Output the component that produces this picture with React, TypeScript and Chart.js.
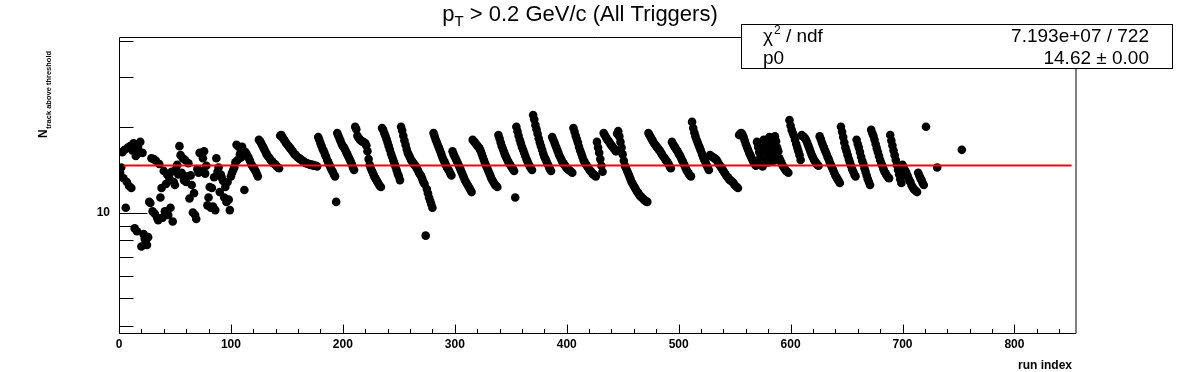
import React, { useEffect, useRef } from "react";
import { Chart, registerables } from "chart.js";

Chart.register(...registerables);

// N_track above threshold per run index (runs 0..719, consecutive)
const nTrack: number[] = [
  14.1, 13.8, 14.4, 16.3, 13.2, 16.6, 10.4, 12.8, 16.9, 12.4,
  17.1, 12.2, 16.5, 17.5, 8.8, 15.8, 8.6, 17.0, 16.2, 17.7,
  7.6, 16.2, 8.4, 8.1, 7.9, 7.7, 8.2, 10.9, 10.8, 15.5,
  10.1, 15.4, 9.9, 15.2, 9.6, 9.4, 14.8, 11.3, 12.2, 9.6,
  14.0, 10.1, 12.6, 13.6, 9.8, 13.2, 10.4, 13.9, 9.3, 12.8,
  12.5, 14.2, 14.7, 13.6, 17.1, 15.9, 13.8, 15.5, 13.0, 15.3,
  12.8, 13.4, 14.9, 11.2, 13.5, 12.5, 10.0, 11.7, 9.8, 9.5,
  14.2, 13.8, 16.2, 14.0, 13.9, 15.5, 16.4, 13.7, 14.6, 10.6,
  11.3, 12.3, 10.4, 12.2, 10.5, 13.3, 10.2, 15.5, 13.9, 14.4,
  11.8, 13.6, 13.2, 12.9, 11.3, 12.3, 10.9, 12.8, 11.1, 10.2,
  13.4, 13.8, 14.1, 14.4, 15.0, 17.3, 15.3, 17.0, 16.0, 15.6, 17.0, 15.9, 12.0,
  16.3, 16.0, 15.8, 15.5, 15.2, 14.8, 14.6, 14.4, 14.2, 14.0, 13.7, 13.4,
  18.0, 17.8, 17.5, 17.2, 16.9, 16.6, 16.3, 16.0, 15.8, 15.6, 15.4, 15.2, 15.1, 14.9, 14.8, 14.7, 14.5, 14.4, 14.3,
  18.6, 18.7, 18.4, 18.1, 17.9, 17.6, 17.4, 17.2, 17.0, 16.8, 16.6, 16.4, 16.2, 16.0, 15.9, 15.7, 15.6, 15.5, 15.4, 15.3,
  15.2, 15.1, 15.0, 14.9, 14.9, 14.8, 14.8, 14.7, 14.7, 14.7, 14.6, 14.6, 14.6, 14.5,
  18.4, 18.0, 17.5, 17.1, 16.7, 16.4, 16.0, 15.7, 15.3, 15.0, 14.7, 14.4, 14.1, 13.9, 13.6, 13.4,
  10.9,
  19.0, 18.6, 18.2, 17.8, 17.4, 17.1, 16.9, 16.6, 16.3, 16.0, 15.7, 15.4, 15.1, 14.8, 14.4, 14.1,
  20.0, 19.6, 18.6, 18.3, 18.1, 17.9, 17.8, 17.7, 17.6, 17.5, 17.2, 16.4, 15.4, 14.7, 14.3, 14.0, 13.7, 13.4, 13.2, 13.0, 12.8, 12.6, 12.4, 12.3,
  19.8, 19.5, 19.0, 18.6, 18.1, 17.6, 17.1, 16.6, 16.1, 15.7, 15.3, 14.9, 14.5, 14.1, 13.7, 13.4, 13.0,
  20.0, 19.4, 18.6, 17.9, 17.3, 16.7, 16.2, 15.9, 15.6, 15.3, 15.1, 14.9, 14.7, 14.6, 14.3, 14.1, 13.8, 13.6, 13.4, 13.1, 12.8, 12.6, 8.3, 12.1, 11.7, 11.3, 11.0, 10.7, 10.4,
  19.0, 18.5, 18.0, 17.6, 17.2, 16.8, 16.4, 16.0, 15.6, 15.3, 15.0, 14.7, 14.4, 14.2, 14.0, 13.7, 13.5,
  16.4, 16.0, 15.7, 15.4, 15.1, 14.8, 14.5, 14.2, 13.9, 13.6, 13.3, 13.0, 12.8, 12.6, 12.4, 12.2, 12.0, 11.8,
  18.0, 17.8, 17.6, 17.4, 17.2, 17.0, 16.8, 16.5, 16.1, 15.7, 15.3, 14.9, 14.6, 14.3, 14.0, 13.7, 13.4, 13.1, 12.9, 12.7, 12.5, 12.4, 12.3,
  18.7, 18.2, 17.6, 17.1, 16.7, 16.3, 15.9, 15.6, 15.3, 15.0, 14.8, 14.6, 14.4, 14.2, 14.0,
  11.3,
  20.0, 19.3, 18.6, 18.0, 17.5, 17.0, 16.6, 16.2, 15.8, 15.4, 15.1, 14.8, 14.5, 14.3, 14.1,
  22.0, 21.2, 20.3, 19.6, 18.9, 18.2, 17.6, 17.1, 16.6, 16.1, 15.7, 15.4, 15.1, 14.8, 14.5, 14.2, 14.0,
  18.4, 18.0, 17.6, 17.2, 16.8, 16.4, 16.0, 15.7, 15.4, 15.1, 14.9, 14.7, 14.5, 14.3, 14.2, 14.1, 14.0, 13.9, 13.8,
  19.8, 19.2, 18.6, 18.1, 17.6, 17.0, 16.5, 16.1, 15.7, 15.3, 15.0, 14.8, 14.6, 14.4, 14.2, 14.0, 13.9, 13.7, 13.6, 13.5, 13.4,
  17.7, 16.9, 16.2, 15.4, 14.6, 13.9,
  19.0, 18.7, 18.4, 18.1, 17.9, 17.7, 17.4, 17.2, 17.0, 16.8, 16.6, 16.4,
  18.9, 19.3, 18.5, 17.7, 16.9, 16.0, 15.2,
  14.6, 14.3, 14.0, 13.7, 13.4, 13.1, 12.8, 12.6, 12.4, 12.2, 12.0, 11.8, 11.7, 11.5, 11.4, 11.3, 11.2, 11.1, 11.0, 10.95, 10.9,
  19.0, 18.7, 18.4, 18.1, 17.8, 17.5, 17.3, 17.1, 16.9, 16.7, 16.5, 16.3, 16.0, 15.8, 15.6, 15.4, 15.2, 15.0, 14.8, 14.5, 14.3,
  17.7, 17.4, 17.1, 16.9, 16.6, 16.4, 16.1, 15.9, 15.6, 15.3, 15.0, 14.7, 14.4, 14.1, 13.9, 13.7, 13.5, 13.4,
  20.8, 19.8, 19.1, 18.5, 18.0, 17.6, 17.2, 16.8, 16.4, 16.0, 15.6, 15.3, 15.0, 14.7, 14.4, 14.1,
  15.9, 15.8, 15.7, 15.6, 15.5, 15.4, 15.3, 15.0, 14.8, 14.6, 14.4, 14.2, 14.0, 13.8, 13.6, 13.4, 13.3, 13.1, 13.0, 12.9, 12.8, 12.7, 12.5, 12.4, 12.3, 12.2,
  18.7, 18.9, 19.0, 18.8, 18.4, 17.9, 17.4, 17.0, 16.6, 16.2, 15.9, 15.6, 15.3, 15.0, 14.8, 14.6,
  17.7, 17.0, 16.3, 15.6, 15.0, 14.5,
  18.0, 17.2, 16.4, 15.6, 15.0,
  18.4, 17.6, 16.8, 16.0, 15.2,
  18.5, 17.8, 16.9, 16.4, 15.5, 15.2, 14.9, 14.6, 14.4, 14.2, 14.0, 13.9, 13.8,
  21.1, 20.2, 19.5, 19.0, 18.6, 18.0, 17.4, 16.9, 16.4, 15.9, 15.3,
  18.7, 18.5, 18.4, 18.2, 17.9, 17.5, 17.1, 16.7, 16.3, 15.9, 15.6, 15.3, 15.1, 14.9, 14.7, 14.6,
  18.5, 18.1, 17.6, 17.2, 16.8, 16.4, 16.1, 15.7, 15.4, 15.0, 14.7, 14.4, 14.1, 13.8, 13.5, 13.3, 13.1, 12.9, 12.7,
  20.0, 19.2, 18.4, 17.6, 16.9, 16.4, 15.9, 15.4, 15.0, 14.6, 14.2, 13.9, 13.6, 13.4,
  18.0, 17.4, 16.9, 16.3, 15.7, 15.2, 14.8, 14.3, 13.9, 13.5, 13.1, 12.8, 12.5,
  19.5, 19.0, 18.6, 18.0, 17.4, 16.8, 16.3, 15.8, 15.3, 14.9, 14.6, 14.2, 13.9, 13.7, 13.5, 13.3, 13.2,
  18.7, 17.9, 17.2, 16.5, 15.9, 15.3, 14.7, 14.1, 13.6, 13.1, 12.7,
  14.7, 14.4, 14.1, 13.9, 13.6, 13.3, 13.0, 12.8, 12.5, 12.3, 12.1, 12.0, 11.9, 11.8,
  13.8, 13.5, 13.2, 13.0, 12.7, 12.5,
];

// isolated runs after the continuous block
const extraRunIndex = [721, 731, 753];
const extraNTrack = [20.0, 14.4, 16.6];

// constant fit (p0)
const fitValue = 14.62;
const fitRunRange = [4, 851];

// axes
const xMin = 0;
const xMax = 855;
const yMin = 3.78;
const yMax = 41.3;
const xMajorTicks = [0, 100, 200, 300, 400, 500, 600, 700, 800];
const xMinorStep = 20;
const yTicks = [4, 5, 6, 7, 8, 9, 10, 20, 30, 40];
const yLabeledTicks = [10];

// texts
const titleMain = "p";
const titleSub = "T";
const titleRest = " > 0.2 GeV/c (All Triggers)";
const yTitleMain = "N";
const yTitleSub = "track above threshold";
const xTitle = "run index";
const statsRows = [
  { left: "ndf", right: "7.193e+07 / 722" },
  { left: "p0", right: "14.62 \u00b1 0.00" },
];

const FONT = '"Liberation Sans", Arial, Helvetica, sans-serif';

const rootPlugin = {
  id: "rootStyle",
  beforeDraw(chart: any) {
    const ctx = chart.ctx;
    ctx.save();
    ctx.fillStyle = "#ffffff";
    ctx.fillRect(0, 0, chart.width, chart.height);
    ctx.restore();
  },
  afterDraw(chart: any) {
    const ctx = chart.ctx as CanvasRenderingContext2D;
    const { left, right, top, bottom } = chart.chartArea;
    const xs = chart.scales.x;
    const ys = chart.scales.y;
    ctx.save();
    ctx.strokeStyle = "#000";
    ctx.fillStyle = "#000";
    ctx.lineWidth = 1;

    // frame
    ctx.beginPath();
    ctx.rect(left + 0.5, top + 0.5, right - left - 0.5, bottom - top);
    ctx.stroke();

    // x ticks
    ctx.beginPath();
    for (let v = xMin; v <= xMax; v += xMinorStep) {
      const px = Math.round(xs.getPixelForValue(v)) + 0.5;
      const len = v % 100 === 0 ? 9 : 4.5;
      ctx.moveTo(px, bottom + 0.5);
      ctx.lineTo(px, bottom + 0.5 - len);
    }
    // y ticks
    for (const t of yTicks) {
      const py = Math.round(ys.getPixelForValue(t)) + 0.5;
      const len = yLabeledTicks.includes(t) ? 28 : 14;
      ctx.moveTo(left + 0.5, py);
      ctx.lineTo(left + 0.5 + len, py);
    }
    ctx.stroke();

    // x labels
    ctx.font = `bold 12px ${FONT}`;
    ctx.textAlign = "center";
    ctx.textBaseline = "alphabetic";
    for (const v of xMajorTicks) {
      ctx.fillText(String(v), xs.getPixelForValue(v), bottom + 15);
    }
    // y labels
    ctx.textAlign = "right";
    ctx.textBaseline = "middle";
    for (const t of yLabeledTicks) {
      ctx.fillText(String(t), left - 9, ys.getPixelForValue(t));
    }
    // x title
    ctx.textAlign = "right";
    ctx.textBaseline = "alphabetic";
    ctx.fillText(xTitle, right - 4, bottom + 36);

    // y title (rotated)
    ctx.save();
    ctx.translate(47, 138);
    ctx.rotate(-Math.PI / 2);
    ctx.textAlign = "left";
    ctx.textBaseline = "alphabetic";
    ctx.font = `bold 12px ${FONT}`;
    ctx.fillText(yTitleMain, 0, 0);
    const nW = ctx.measureText(yTitleMain).width;
    ctx.font = `bold 7.5px ${FONT}`;
    ctx.fillText(yTitleSub, nW + 0.5, 4);
    ctx.restore();

    // title
    ctx.textAlign = "left";
    ctx.textBaseline = "alphabetic";
    const tSize = 22;
    const sSize = 15;
    ctx.font = `${tSize}px ${FONT}`;
    const wMain = ctx.measureText(titleMain).width;
    const wRest = ctx.measureText(titleRest).width;
    ctx.font = `${sSize}px ${FONT}`;
    const wSub = ctx.measureText(titleSub).width;
    const total = wMain + wSub + wRest;
    let tx = 580 - total / 2;
    const ty = 21;
    ctx.font = `${tSize}px ${FONT}`;
    ctx.fillText(titleMain, tx, ty);
    tx += wMain;
    ctx.font = `${sSize}px ${FONT}`;
    ctx.fillText(titleSub, tx, ty + 5);
    tx += wSub;
    ctx.font = `${tSize}px ${FONT}`;
    ctx.fillText(titleRest, tx, ty);

    // stats box
    const bx = 741, by = 24, bw = 431, bh = 44;
    ctx.fillStyle = "#fff";
    ctx.fillRect(bx, by, bw, bh);
    ctx.strokeStyle = "#000";
    ctx.strokeRect(bx + 0.5, by + 0.5, bw, bh);
    ctx.fillStyle = "#000";
    ctx.font = `19px ${FONT}`;
    const rowBase = [42, 64];
    let lx = 763;
    ctx.textAlign = "left";
    ctx.fillText("\u03c7", lx, rowBase[0]);
    lx += ctx.measureText("\u03c7").width;
    ctx.font = `12px ${FONT}`;
    ctx.fillText("2", lx + 1, rowBase[0] - 8);
    lx += ctx.measureText("2").width + 1;
    ctx.font = `19px ${FONT}`;
    ctx.fillText(" / " + statsRows[0].left, lx, rowBase[0]);
    ctx.fillText(statsRows[1].left, 763, rowBase[1]);
    ctx.textAlign = "right";
    ctx.fillText(statsRows[0].right, 1149, rowBase[0]);
    ctx.fillText(statsRows[1].right, 1149, rowBase[1]);

    ctx.restore();
  },
};

export default function App() {
  const ref = useRef<HTMLCanvasElement>(null);
  useEffect(() => {
    const canvas = ref.current;
    if (!canvas) return;
    const points = nTrack.map((v, i) => ({ x: i, y: v }));
    extraRunIndex.forEach((r, k) => points.push({ x: r, y: extraNTrack[k] }));
    const chart = new Chart(canvas, {
      type: "scatter",
      data: {
        datasets: [
          {
            type: "line",
            data: fitRunRange.map((x) => ({ x, y: fitValue })),
            borderColor: "#ff0000",
            borderWidth: 2,
            pointRadius: 0,
            fill: false,
            order: 0,
          } as any,
          {
            data: points,
            backgroundColor: "#000000",
            borderColor: "#000000",
            borderWidth: 0,
            pointRadius: 4.3,
            order: 1,
          },
        ],
      },
      options: {
        animation: false,
        responsive: false,
        maintainAspectRatio: false,
        events: [],
        layout: { padding: { left: 119, right: 120, top: 37, bottom: 39 } },
        scales: {
          x: { type: "linear", min: xMin, max: xMax, display: false },
          y: { type: "logarithmic", min: yMin, max: yMax, display: false },
        },
        plugins: {
          legend: { display: false },
          tooltip: { enabled: false },
          title: { display: false },
        },
      },
      plugins: [rootPlugin],
    });
    return () => chart.destroy();
  }, []);
  return (
    <div style={{ position: "absolute", left: 0, top: 0, width: 1196, height: 372, background: "#fff" }}>
      <canvas ref={ref} width={1196} height={372} style={{ display: "block", width: 1196, height: 372 }} />
    </div>
  );
}
